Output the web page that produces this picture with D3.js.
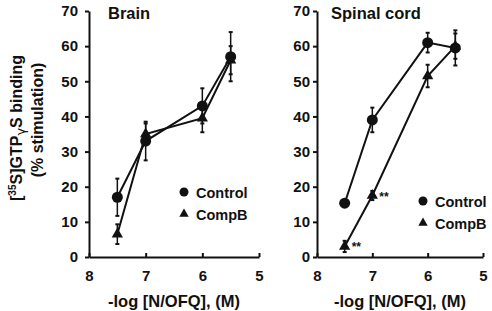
<!DOCTYPE html>
<html>
<head>
<meta charset="utf-8">
<script src="https://cdn.jsdelivr.net/npm/d3@7"></script>
<style>
  body { margin: 0; background: #fff; }
  text { font-family: "Liberation Sans", Arial, Helvetica, sans-serif; font-weight: bold; fill: #111; }
</style>
</head>
<body>
<div id="wrapper"></div>
<script>
// concentrations, -log [N/OFQ]
const doses = [7.5, 7, 6, 5.5];
const xTicks = [8, 7, 6, 5];
const yTicks = [0, 10, 20, 30, 40, 50, 60, 70];

// Brain
const brainControl = [17, 33, 43, 57];
const brainControlErr = [5.3, 5.5, 5, 7];
const brainCompB = [6.5, 35, 39.5, 56];
const brainCompBErr = [2.8, 3, 4, 4];

// Spinal cord
const spinalControl = [15.3, 39, 61, 59.5];
const spinalControlErr = [0.8, 3.5, 2.8, 5];
const spinalCompB = [3, 17.5, 51.5, 60];
const spinalCompBErr = [1.6, 1.3, 3.2, 3.6];
const spinalStars = [7.5, 7];

function buildPlot() {
    const svg = d3.select("#wrapper").append("svg")
        .attr("width", 492)
        .attr("height", 311);

    const yScaler = d3.scaleLinear().domain([0, 70]).range([257, 11]);

    const panels = [
        {
            title: "Brain", titleX: 108, x0: 89, x1: 259,
            control: brainControl, controlErr: brainControlErr,
            compB: brainCompB, compBErr: brainCompBErr,
            legendX: 184, legendY: 192, stars: []
        },
        {
            title: "Spinal cord", titleX: 331, x0: 317, x1: 483,
            control: spinalControl, controlErr: spinalControlErr,
            compB: spinalCompB, compBErr: spinalCompBErr,
            legendX: 423, legendY: 201, stars: spinalStars
        }
    ];

    panels.forEach(p => {
        const xScaler = d3.scaleLinear().domain([8, 5]).range([p.x0, p.x1]);
        const g = svg.append("g");

        // axes
        const yAxis = d3.axisLeft(yScaler).tickValues(yTicks).tickSize(4).tickSizeOuter(0)
            .tickFormat(d3.format("d")).tickPadding(p.x0 < 200 ? 7 : 3);
        const yg = g.append("g").attr("transform", `translate(${p.x0},0)`).call(yAxis);
        const xAxis = d3.axisBottom(xScaler).tickValues(xTicks).tickSize(-4).tickSizeOuter(0)
            .tickFormat(d3.format("d")).tickPadding(13);
        const xg = g.append("g").attr("transform", "translate(0,257)").call(xAxis);
        [yg, xg].forEach(a => {
            a.select(".domain").attr("stroke", "#111").attr("stroke-width", 2);
            a.selectAll(".tick line").attr("stroke", "#111").attr("stroke-width", 2);
            a.selectAll(".tick text").attr("font-size", 15).attr("font-family", "Liberation Sans, Arial, sans-serif").attr("font-weight", "bold").attr("fill", "#111");
        });

        g.append("text")
            .attr("x", p.titleX).attr("y", 19)
            .attr("font-size", 16.5)
            .text(p.title);

        g.append("text")
            .attr("x", (p.x0 + p.x1) / 2).attr("y", 307)
            .attr("text-anchor", "middle")
            .attr("font-size", 16.5)
            .text("-log [N/OFQ], (M)");

        const series = [
            { vals: p.control, errs: p.controlErr, shape: "circle" },
            { vals: p.compB, errs: p.compBErr, shape: "triangle" }
        ];

        const lineGenerator = d3.line()
            .x((d, i) => xScaler(doses[i]))
            .y(d => yScaler(d));

        series.forEach(s => {
            g.append("path")
                .attr("d", lineGenerator(s.vals))
                .attr("fill", "none")
                .attr("stroke", "#111")
                .attr("stroke-width", 2);
        });

        series.forEach(s => {
            s.vals.forEach((v, i) => {
                const cx = xScaler(doses[i]);
                const top = yScaler(v + s.errs[i]);
                const bot = yScaler(v - s.errs[i]);
                g.append("line").attr("x1", cx).attr("x2", cx).attr("y1", top).attr("y2", bot)
                    .attr("stroke", "#111").attr("stroke-width", 1.5);
                [top, bot].forEach(yy => {
                    g.append("line").attr("x1", cx - 2).attr("x2", cx + 2).attr("y1", yy).attr("y2", yy)
                        .attr("stroke", "#111").attr("stroke-width", 2);
                });
            });
        });

        series.forEach(s => {
            s.vals.forEach((v, i) => {
                const cx = xScaler(doses[i]);
                const cy = yScaler(v);
                if (s.shape === "circle") {
                    g.append("circle").attr("cx", cx).attr("cy", cy).attr("r", 5.5).attr("fill", "#111");
                } else {
                    g.append("path")
                        .attr("d", d3.symbol(d3.symbolTriangle, 55)())
                        .attr("transform", `translate(${cx},${cy})`)
                        .attr("fill", "#111");
                }
            });
        });

        // significance marks
        p.stars.forEach(d => {
            const i = doses.indexOf(d);
            g.append("text")
                .attr("x", xScaler(d) + 7)
                .attr("y", yScaler(p.compB[i]) + 5)
                .attr("font-size", 12)
                .text("**");
        });

        // legend
        g.append("circle").attr("cx", p.legendX).attr("cy", p.legendY).attr("r", 4.5).attr("fill", "#111");
        g.append("path")
            .attr("d", d3.symbol(d3.symbolTriangle, 38)())
            .attr("transform", `translate(${p.legendX},${p.legendY + 22})`)
            .attr("fill", "#111");
        g.append("text").attr("x", p.legendX + 12).attr("y", p.legendY + 5.5).attr("font-size", 14.5).text("Control");
        g.append("text").attr("x", p.legendX + 12).attr("y", p.legendY + 27.5).attr("font-size", 14.5).text("CompB");
    });

    // y label
    const yl = svg.append("text")
        .attr("transform", "translate(22,128) rotate(-90)")
        .attr("text-anchor", "middle")
        .attr("font-size", 16);
    yl.append("tspan").text("[");
    yl.append("tspan").attr("font-size", 10).attr("dy", -6).text("35");
    yl.append("tspan").attr("dy", 6).text("S]GTP");
    yl.append("tspan").attr("font-size", 13).attr("dy", 3).attr("font-family", "DejaVu Sans, sans-serif").attr("font-weight", "normal").text("γ");
    yl.append("tspan").attr("dy", -3).text("S binding");
    svg.append("text")
        .attr("transform", "translate(43,120) rotate(-90)")
        .attr("text-anchor", "middle")
        .attr("font-size", 16)
        .text("(% stimulation)");
}
buildPlot();
</script>
</body>
</html>
